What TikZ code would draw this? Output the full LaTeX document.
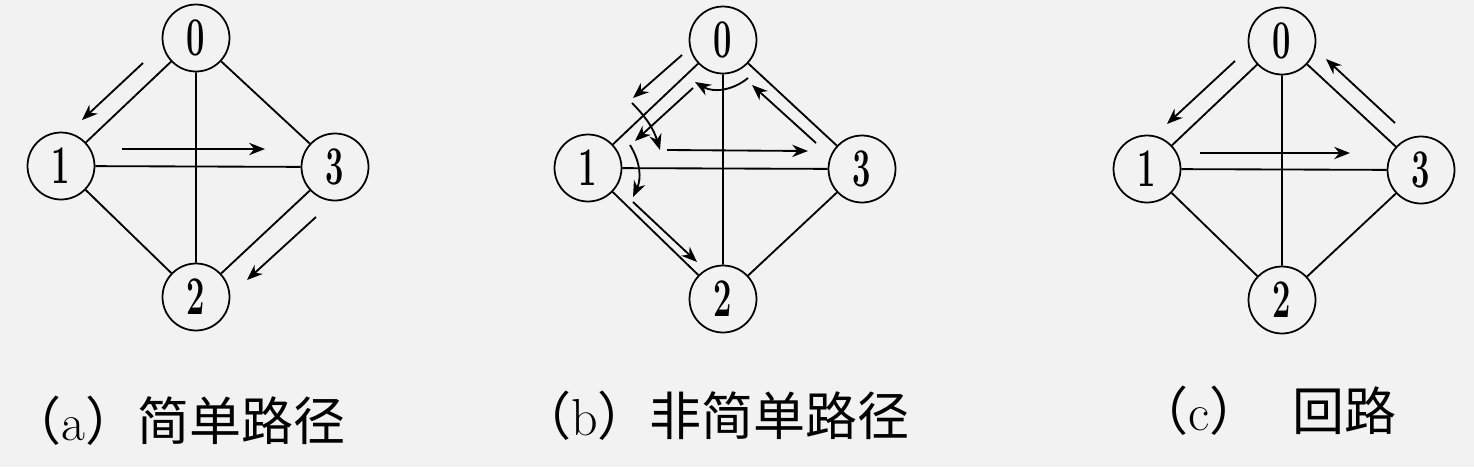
\documentclass[tikz,border=0pt]{standalone}
\usepackage{fontspec}
\usepackage{graphicx}
\newfontfamily\cjk{Noto Sans CJK SC}
\usetikzlibrary{arrows.meta}

\newcommand{\digit}[1]{\scalebox{0.6}[1]{\bfseries #1}}

\tikzset{
  vertex/.style={draw,circle,line width=1pt,minimum size=1.34cm,inner sep=0pt,font=\fontsize{31}{31}\selectfont},
  edge/.style={line width=1.05pt},
  walk/.style={line width=1.05pt,-{Stealth[length=9pt,width=7pt]}},
  caption/.style={anchor=base west,inner sep=0pt,font=\fontsize{29.6}{30}\selectfont}
}

\begin{document}
\begin{tikzpicture}[x=0.02cm,y=-0.02cm]

\fill[black!5] (0,0) rectangle (1474,467);

% the same graph three times
\foreach \g/\cx/\cy in {a/196/38,b/723/40,c/1282/41} {
  \node[vertex] (\g0) at (\cx,\cy) {\digit{0}};
  \node[vertex] (\g1) at (\cx-135,\cy+128) {\digit{1}};
  \node[vertex] (\g3) at (\cx+139,\cy+129) {\digit{3}};
  \node[vertex] (\g2) at (\cx,\cy+259) {\digit{2}};
  \draw[edge] (\g0) -- (\g1) (\g0) -- (\g2) (\g0) -- (\g3)
              (\g1) -- (\g3) (\g1) -- (\g2) (\g2) -- (\g3);
}

%% (a)
\draw[walk] (143,63) -- (82,120);
\draw[walk] (122,149) -- (265,149);
\draw[walk] (316,217) -- (247,280);

%% (b)
\draw[walk] (682,55) -- (633,98);
\draw[walk] (632,103) to[bend left=14] (660,150);
\draw[walk] (667,150) -- (808,151);
\draw[walk] (816,143) -- (752,85);
\draw[walk] (748,78) to[bend left=35] (695,82);
\draw[walk] (693,88) -- (635,141);
\draw[walk] (630,145) to[bend left=28] (633,197);
\draw[walk] (633,202) -- (697,262);

%% (c)
\draw[walk] (1235,61) -- (1167,124);
\draw[walk] (1200,153) -- (1350,153);
\draw[walk] (1395,123) -- (1326,59);

\node[caption] (capa) at (9,440) {{\cjk （}a{\cjk ）简单路径}};
\node[caption] (capb) at (519,435) {{\cjk （}b{\cjk ）非简单路径}};
\node[caption] (capc) at (1136,430) {{\cjk （}c{\cjk ）\hspace{0.6em}回路}};

\end{tikzpicture}
\end{document}
